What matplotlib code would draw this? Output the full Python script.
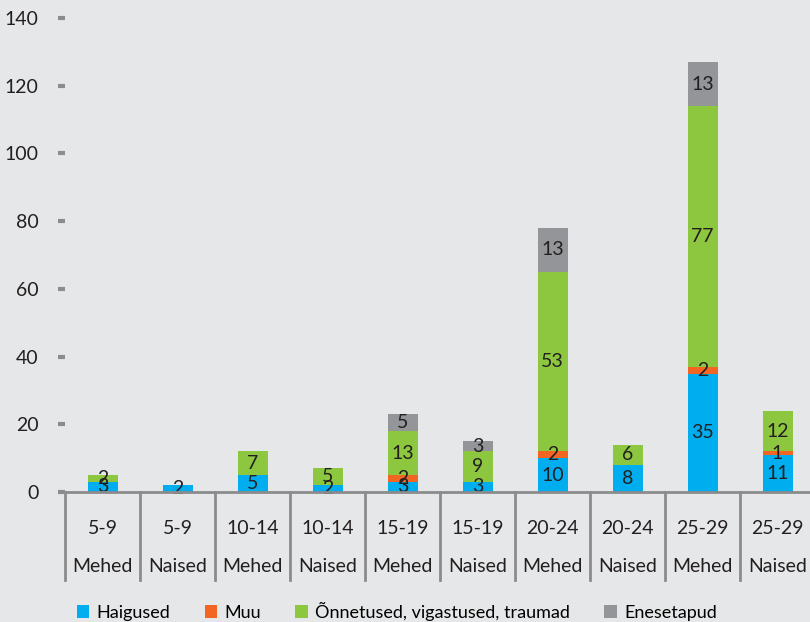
import matplotlib.pyplot as plt
import numpy as np

plt.rcParams['font.family'] = ['Lato', 'DejaVu Sans']

ages = ['5-9', '5-9', '10-14', '10-14', '15-19', '15-19', '20-24', '20-24', '25-29', '25-29']
sexes = ['Mehed', 'Naised'] * 5

series_names = ['Haigused', 'Muu', 'Õnnetused, vigastused, traumad', 'Enesetapud']
haigused = [3, 2, 5, 2, 3, 3, 10, 8, 35, 11]
muu = [0, 0, 0, 0, 2, 0, 2, 0, 2, 1]
onnetused = [2, 0, 7, 5, 13, 9, 53, 6, 77, 12]
enesetapud = [0, 0, 0, 0, 5, 3, 13, 0, 13, 0]
colors = ['#00aeef', '#f26522', '#8dc63f', '#939598']

bg = '#e6e7e8'
grey = '#8c8c8c'

fig = plt.figure(figsize=(8.1, 6.22), dpi=100, facecolor=bg)
ax = fig.add_axes([65 / 810, 1 - 492 / 622, 750 / 810, (492 - 18) / 622])
ax.set_facecolor(bg)

x = np.arange(len(ages))
bottom = np.zeros(len(ages))
handles = []
for name, vals, col in zip(series_names, [haigused, muu, onnetused, enesetapud], colors):
    vals = np.array(vals, dtype=float)
    b = ax.bar(x, vals, 0.4, bottom=bottom, color=col, label=name, zorder=2)
    handles.append(b)
    for xi, v, bt in zip(x, vals, bottom):
        if v > 0:
            ax.text(xi, bt + v / 2, str(int(v)), ha='center', va='center',
                    fontsize=14, color='#231f20', zorder=3)
    bottom += vals

ax.set_xlim(-0.5, len(ages) - 0.5)
ax.set_ylim(0, 140)
ax.set_yticks(range(0, 141, 20))
ax.tick_params(axis='y', length=5, width=3, color=grey, pad=14, labelsize=14,
               labelcolor='#231f20')
ax.set_xticks([])
for s in ['top', 'right', 'left']:
    ax.spines[s].set_visible(False)
ax.spines['bottom'].set_color(grey)
ax.spines['bottom'].set_linewidth(2)
ax.spines['bottom'].set_zorder(4)

trans = ax.get_xaxis_transform()
h = (492 - 18)
for i in range(len(ages) + 1):
    ax.plot([i - 0.5, i - 0.5], [0, -(580 - 492) / h], transform=trans,
            color=grey, lw=2, clip_on=False)
for i, (a, s) in enumerate(zip(ages, sexes)):
    ax.text(i, -(528 - 492) / h, a, transform=trans, ha='center', va='center',
            fontsize=14, color='#231f20')
    ax.text(i, -(566 - 492) / h, s, transform=trans, ha='center', va='center',
            fontsize=14, color='#231f20')

fig.legend(handles=handles, loc='center', bbox_to_anchor=(0.49, 0.017), ncol=4,
           frameon=False, fontsize=13, handlelength=0.7, handleheight=0.7,
           handletextpad=0.4, columnspacing=1.9)

fig.savefig('out.png', dpi=100, facecolor=bg)
